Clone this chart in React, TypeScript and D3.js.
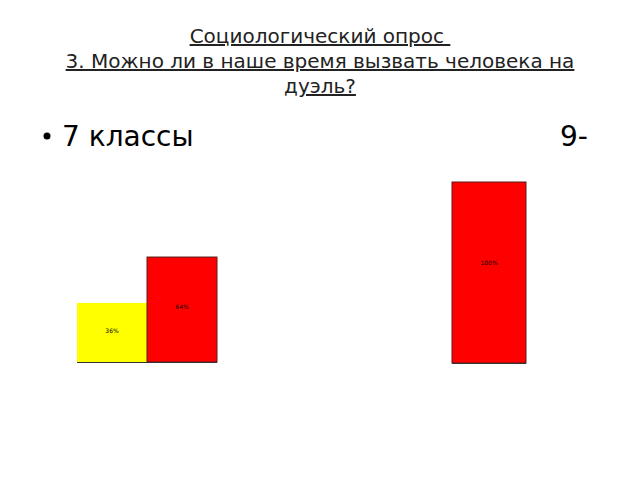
import * as d3 from "d3";

// survey results (labels are too small to read exactly)
const leftCategories = ["да", "нет"];
const leftValues = [36, 64];
const leftColours = ["#ffff00", "#ff0000"];
const rightCategories = ["нет"];
const rightValues = [100];
const rightColours = ["#ff0000"];

const titleLines = [
  "Социологический опрос ",
  "3. Можно ли в наше время вызвать человека на",
  "дуэль?",
];

const W = 640;
const H = 480;

interface Bar {
  category: string;
  value: number;
  colour: string;
}

const BarGroup = (props: {
  bars: Bar[];
  x0: number;
  x1: number;
  baseline: number;
  fullHeight: number;
  labelAt: number;
}) => {
  const { bars, x0, x1, baseline, fullHeight, labelAt } = props;
  const x = d3
    .scaleBand<string>()
    .domain(bars.map((b) => b.category))
    .range([x0, x1])
    .padding(0);
  const y = d3.scaleLinear().domain([0, 100]).range([baseline, baseline - fullHeight]);
  return (
    <g>
      {bars.map((b) => {
        const bx = x(b.category) ?? 0;
        const by = y(b.value);
        const red = b.colour === "#ff0000";
        return (
          <g key={b.category}>
            <rect
              x={bx}
              y={by}
              width={x.bandwidth()}
              height={baseline - by}
              fill={b.colour}
              stroke={red ? "#5a1a1a" : "none"}
              strokeWidth={red ? 1 : 0}
            />
            <text
              x={bx + x.bandwidth() / 2}
              y={by + (baseline - by) * labelAt + 2}
              textAnchor="middle"
              fontSize={6}
              fill="#000"
              fontFamily="DejaVu Sans"
            >
              {b.value}%
            </text>
          </g>
        );
      })}
      <line x1={x0} x2={x1} y1={baseline + 0.5} y2={baseline + 0.5} stroke="#333" strokeWidth={1} />
    </g>
  );
};

export default function App() {
  const leftBars = leftCategories.map((c, i) => ({
    category: c,
    value: leftValues[i],
    colour: leftColours[i],
  }));
  const rightBars = rightCategories.map((c, i) => ({
    category: c,
    value: rightValues[i],
    colour: rightColours[i],
  }));

  return (
    <svg
      width={W}
      height={H}
      style={{ position: "absolute", left: 0, top: 0, background: "#fff" }}
      fontFamily="DejaVu Sans"
    >
      {titleLines.map((t, i) => (
        <text
          key={i}
          x={320}
          y={43 + i * 25}
          textAnchor="middle"
          fontSize={20}
          fill="#222"
          textDecoration="underline"
          style={{ whiteSpace: "pre" }}
        >
          {t}
        </text>
      ))}

      <circle cx={47} cy={136} r={3.5} fill="#000" />
      <text x={62} y={146} fontSize={28} fill="#000">
        7 классы
      </text>
      <text x={560} y={146} fontSize={28} fill="#000">
        9-
      </text>

      <BarGroup bars={leftBars} x0={77} x1={217} baseline={362} fullHeight={164} labelAt={0.48} />
      <BarGroup bars={rightBars} x0={452} x1={526} baseline={363} fullHeight={181} labelAt={0.45} />
    </svg>
  );
}
